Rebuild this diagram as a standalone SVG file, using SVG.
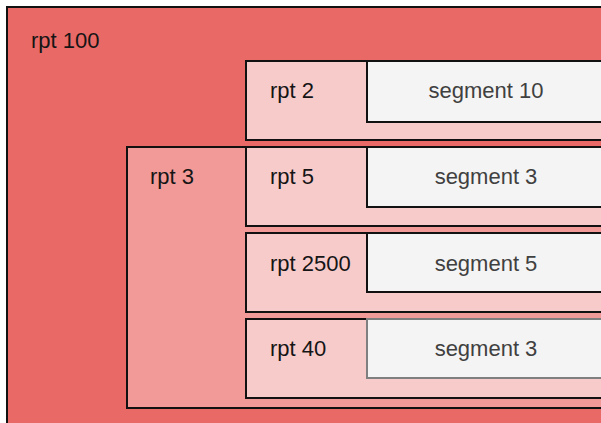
<svg xmlns="http://www.w3.org/2000/svg" width="601" height="423" viewBox="0 0 601 423">
<style>
.box{stroke:#111;stroke-width:2}
.outer{fill:#E96966}
.mid{fill:#F19A98}
.rpt{fill:#F8CBCB}
.seg{fill:#F4F4F4}
.segg{fill:#F4F4F4;stroke:#7F7F7F;stroke-width:2}
.lbl{font-family:"Liberation Sans",Arial,sans-serif;font-size:22px;fill:#151515}
.stx{font-family:"Liberation Sans",Arial,sans-serif;font-size:22px;fill:#404040;text-anchor:middle}
</style>
<rect width="601" height="423" fill="#ffffff"/>
<g id="rpt100">
<rect class="box outer" x="7" y="7" width="640" height="450"/>
<text class="lbl" x="31" y="48">rpt 100</text>
</g>
<g id="rpt2">
<rect class="box rpt" x="246" y="61" width="400" height="79"/>
<text class="lbl" x="270" y="98">rpt 2</text>
</g>
<g id="seg10">
<rect class="box seg" x="367" y="61" width="300" height="61"/>
<text class="stx" x="486" y="98">segment 10</text>
</g>
<g id="rpt3">
<rect class="box mid" x="127" y="147" width="520" height="261"/>
<text class="lbl" x="150" y="184">rpt 3</text>
</g>
<g id="rpt5">
<rect class="box rpt" x="246" y="147" width="400" height="79"/>
<text class="lbl" x="270" y="184">rpt 5</text>
</g>
<g id="seg3a">
<rect class="box seg" x="367" y="147" width="300" height="60"/>
<text class="stx" x="486" y="184">segment 3</text>
</g>
<g id="rpt2500">
<rect class="box rpt" x="246" y="233" width="400" height="79"/>
<text class="lbl" x="270" y="271">rpt 2500</text>
</g>
<g id="seg5">
<rect class="box seg" x="367" y="233" width="300" height="59"/>
<text class="stx" x="486" y="271">segment 5</text>
</g>
<g id="rpt40">
<rect class="box rpt" x="246" y="319" width="400" height="79"/>
<text class="lbl" x="270" y="356">rpt 40</text>
</g>
<g id="seg3b">
<rect class="segg" x="367" y="319" width="300" height="59"/>
<text class="stx" x="486" y="356">segment 3</text>
</g>
<g id="connectors"></g>
</svg>
